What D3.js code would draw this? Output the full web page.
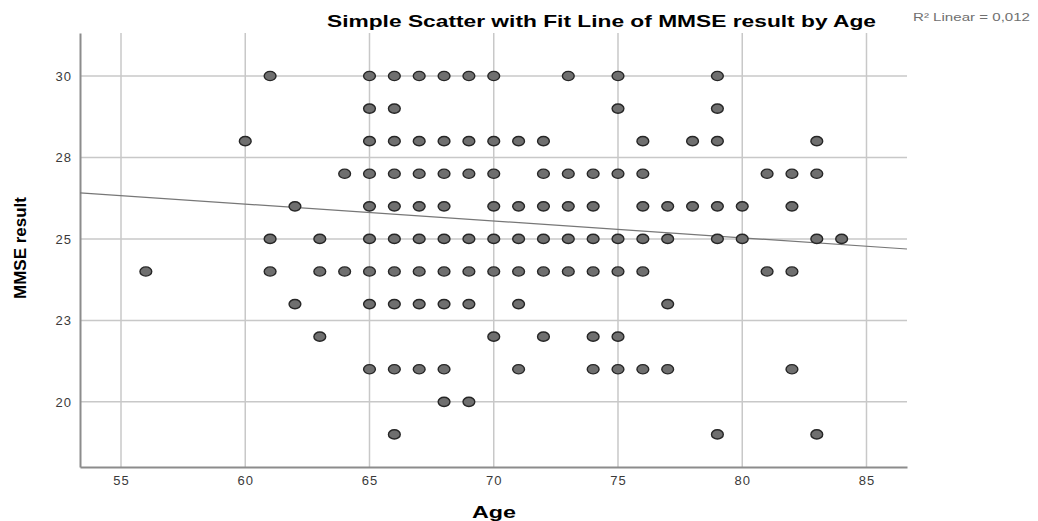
<!DOCTYPE html>
<html>
<head>
<meta charset="utf-8">
<script src="https://cdn.jsdelivr.net/npm/d3@7"></script>
<style>
  body { margin: 0; background: #fff; }
</style>
</head>
<body>
<div class="chart"></div>
<script>
// MMSE score rows, each with the ages where a dot shows
let mmseRows = [30, 29, 28, 27, 26, 25, 24, 23, 22, 21, 20, 19];
let agesByRow = [
  [61, 65, 66, 67, 68, 69, 70, 73, 75, 79],
  [65, 66, 75, 79],
  [60, 65, 66, 67, 68, 69, 70, 71, 72, 76, 78, 79, 83],
  [64, 65, 66, 67, 68, 69, 70, 72, 73, 74, 75, 76, 81, 82, 83],
  [62, 65, 66, 67, 68, 70, 71, 72, 73, 74, 76, 77, 78, 79, 80, 82],
  [61, 63, 65, 66, 67, 68, 69, 70, 71, 72, 73, 74, 75, 76, 77, 79, 80, 83, 84],
  [56, 61, 63, 64, 65, 66, 67, 68, 69, 70, 71, 72, 73, 74, 75, 76, 81, 82],
  [62, 65, 66, 67, 68, 69, 71, 77],
  [63, 70, 72, 74, 75],
  [65, 66, 67, 68, 71, 74, 75, 76, 77, 82],
  [68, 69],
  [66, 79, 83]
];

let xTicks = [55, 60, 65, 70, 75, 80, 85];
let yTicks = [20, 22.5, 25, 27.5, 30];

// fit line
let fitIntercept = 29.17;
let fitSlope = -0.0517;
let r2Label = 'R\u00b2 Linear = 0,012';

let points = [];
mmseRows.forEach((m, i) => {
  agesByRow[i].forEach(a => points.push({ age: a, mmse: m }));
});

let svg = d3.select('.chart')
  .append('svg')
  .attr('width', 1038)
  .attr('height', 521);

let plotL = 80, plotR = 907, plotT = 33, plotB = 467;

let x = d3.scaleLinear().domain([53.35, 86.63]).range([plotL, plotR]);
let y = d3.scaleLinear().domain([18.0, 31.32]).range([plotB, plotT]);

// grid
svg.append('g')
  .selectAll('line')
  .data(xTicks)
  .join('line')
  .attr('x1', d => x(d)).attr('x2', d => x(d))
  .attr('y1', plotT).attr('y2', plotB)
  .attr('stroke', '#c8c8c8')
  .attr('stroke-width', 1.5);

svg.append('g')
  .selectAll('line')
  .data(yTicks)
  .join('line')
  .attr('x1', plotL).attr('x2', plotR)
  .attr('y1', d => y(d)).attr('y2', d => y(d))
  .attr('stroke', '#c8c8c8')
  .attr('stroke-width', 1.5);

// axes
let xAxis = svg.append('g')
  .attr('transform', `translate(0,${plotB})`)
  .call(d3.axisBottom(x).tickValues(xTicks).tickSize(0).tickPadding(9));

let yAxis = svg.append('g')
  .attr('transform', `translate(${plotL},0)`)
  .call(d3.axisLeft(y).tickValues(yTicks).tickFormat(d3.format('.0f')).tickSize(0).tickPadding(8));

[xAxis, yAxis].forEach(g => {
  g.select('.domain').attr('stroke', '#8c8c8c').attr('stroke-width', 2);
  g.selectAll('text')
    .attr('fill', '#3a3a3a')
    .style('font-family', 'Liberation Sans, Arial, sans-serif')
    .style('font-size', '13px')
    .style('letter-spacing', '1px');
});

// fit line
svg.append('line')
  .attr('x1', x(53.35)).attr('y1', y(fitIntercept + fitSlope * 53.35))
  .attr('x2', x(86.63)).attr('y2', y(fitIntercept + fitSlope * 86.63))
  .attr('stroke', '#777')
  .attr('stroke-width', 1.2);

// dots
svg.append('g')
  .selectAll('ellipse')
  .data(points)
  .join('ellipse')
  .attr('cx', d => x(d.age))
  .attr('cy', d => y(d.mmse))
  .attr('rx', 5.9)
  .attr('ry', 4.6)
  .attr('fill', '#6f6f6f')
  .attr('stroke', '#262626')
  .attr('stroke-width', 1.4);

// texts
svg.append('text')
  .attr('x', 327)
  .attr('y', 27)
  .attr('textLength', 549)
  .attr('lengthAdjust', 'spacingAndGlyphs')
  .style('font-family', 'Liberation Sans, Arial, sans-serif')
  .style('font-weight', 'bold')
  .style('font-size', '17px')
  .text('Simple Scatter with Fit Line of MMSE result by Age');

svg.append('text')
  .attr('x', 913)
  .attr('y', 21)
  .attr('textLength', 117)
  .attr('lengthAdjust', 'spacingAndGlyphs')
  .attr('fill', '#707070')
  .style('font-family', 'Liberation Sans, Arial, sans-serif')
  .style('font-size', '11px')
  .text(r2Label);

svg.append('text')
  .attr('x', 472)
  .attr('y', 518)
  .attr('textLength', 44)
  .attr('lengthAdjust', 'spacingAndGlyphs')
  .style('font-family', 'Liberation Sans, Arial, sans-serif')
  .style('font-weight', 'bold')
  .style('font-size', '17px')
  .text('Age');

svg.append('text')
  .attr('transform', 'translate(26,248) rotate(-90)')
  .attr('text-anchor', 'middle')
  .style('font-family', 'Liberation Sans Narrow, Arial Narrow, sans-serif')
  .style('font-weight', 'bold')
  .style('font-size', '17px')
  .text('MMSE result');
</script>
</body>
</html>
